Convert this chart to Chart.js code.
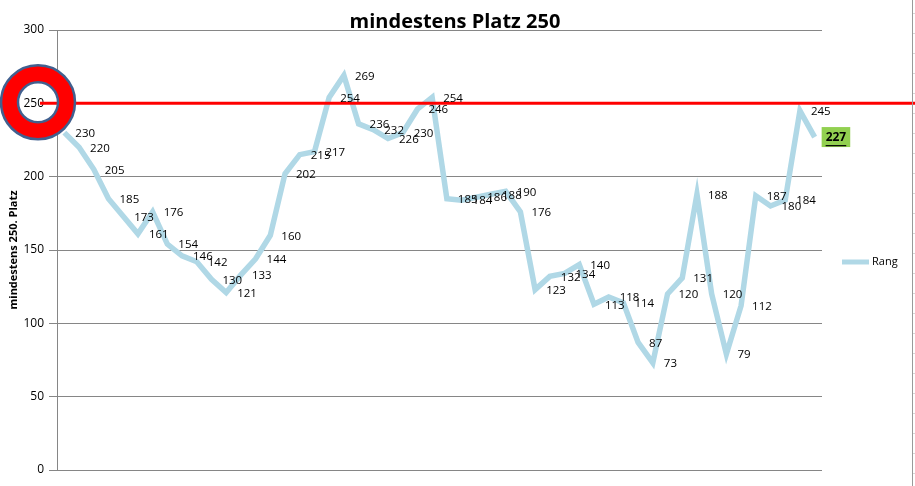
<!DOCTYPE html>
<html>
<head>
<meta charset="utf-8">
<script src="https://cdn.jsdelivr.net/npm/chart.js@4"></script>
<style>
  html, body { margin: 0; padding: 0; background: #fff; }
  #wrap { width: 915px; height: 486px; }
</style>
</head>
<body>
<div id="wrap"><canvas id="rangChart" width="915" height="486"></canvas></div>
<script>
// Rang pro Woche, von links nach rechts
const rang = [230, 220, 205, 185, 173, 161, 176, 154, 146, 142, 130, 121, 133, 144, 160, 202, 215, 217, 254, 269,
              236, 232, 226, 230, 246, 254, 185, 184, 186, 188, 190, 176, 123, 132, 134, 140, 113, 118, 114, 87,
              73, 120, 131, 188, 120, 79, 112, 187, 180, 184, 245, 227];
const categories = rang.map((_, i) => String(i + 1));
const yTicks = [0, 50, 100, 150, 200, 250, 300];
const ziel = 250;

const FONT = "'Open Sans', sans-serif";

const overlay = {
  id: 'overlay',
  afterDatasetsDraw(chart) {
    const ctx = chart.ctx;
    const y = chart.scales.y;
    const meta = chart.getDatasetMeta(0);
    ctx.save();

    // rote Linie bei Platz 250
    const yz = y.getPixelForValue(ziel);
    ctx.strokeStyle = '#ff0000';
    ctx.lineWidth = 3;
    ctx.beginPath();
    ctx.moveTo(40, yz);
    ctx.lineTo(915, yz);
    ctx.stroke();

    // Ring um 250
    const cx = 38, cy = yz - 1;
    ctx.beginPath();
    ctx.arc(cx, cy, 37, 0, Math.PI * 2);
    ctx.arc(cx, cy, 20, 0, Math.PI * 2, true);
    ctx.fillStyle = '#ff0000';
    ctx.fill('evenodd');
    ctx.strokeStyle = '#41608f';
    ctx.lineWidth = 2.5;
    ctx.beginPath();
    ctx.arc(cx, cy, 37, 0, Math.PI * 2);
    ctx.stroke();
    ctx.beginPath();
    ctx.arc(cx, cy, 20, 0, Math.PI * 2);
    ctx.stroke();

    // Werte rechts neben den Punkten
    ctx.textBaseline = 'middle';
    ctx.textAlign = 'left';
    meta.data.forEach((pt, i) => {
      const txt = String(rang[i]);
      if (i === rang.length - 1) {
        ctx.font = 'bold 12px ' + FONT;
        const w = ctx.measureText(txt).width;
        ctx.fillStyle = '#92d050';
        ctx.fillRect(pt.x + 7, pt.y - 10, w + 8, 20);
        ctx.fillStyle = '#000';
        ctx.fillText(txt, pt.x + 11, pt.y + 1);
        ctx.fillRect(pt.x + 11, pt.y + 8, w, 1.2);
      } else {
        ctx.font = '11.5px ' + FONT;
        ctx.fillStyle = '#000';
        ctx.fillText(txt, pt.x + 11, pt.y + 1);
      }
    });

    // Legende
    ctx.strokeStyle = '#b0d8e6';
    ctx.lineWidth = 5;
    ctx.beginPath();
    ctx.moveTo(842, 262);
    ctx.lineTo(869, 262);
    ctx.stroke();
    ctx.fillStyle = '#000';
    ctx.font = '11px ' + FONT;
    ctx.fillText('Rang', 872, 262);

    // Titel
    ctx.font = 'bold 20px ' + FONT;
    ctx.textAlign = 'center';
    ctx.textBaseline = 'alphabetic';
    ctx.fillText('mindestens Platz 250', 455, 28);

    // Tabellenrand rechts
    ctx.strokeStyle = '#9a9a9a';
    ctx.lineWidth = 1;
    ctx.beginPath();
    ctx.moveTo(912.5, 0);
    ctx.lineTo(912.5, 486);
    ctx.stroke();
    ctx.strokeStyle = '#d8d8d8';
    for (let t = 13; t < 486; t += 20) {
      ctx.beginPath();
      ctx.moveTo(913, t + 0.5);
      ctx.lineTo(915, t + 0.5);
      ctx.stroke();
    }
    ctx.restore();
  }
};

new Chart(document.getElementById('rangChart'), {
  type: 'line',
  data: {
    labels: categories,
    datasets: [{
      label: 'Rang',
      data: rang,
      borderColor: '#b0d8e6',
      borderWidth: 5.5,
      pointRadius: 0,
      tension: 0,
      fill: false
    }]
  },
  options: {
    responsive: false,
    animation: false,
    layout: { padding: { left: 0, right: 93, top: 30, bottom: 16 } },
    plugins: {
      legend: { display: false },
      title: { display: false },
      tooltip: { enabled: false }
    },
    scales: {
      x: {
        display: false,
        offset: true
      },
      y: {
        min: 0,
        max: 300,
        afterFit(scale) { scale.width = 57; },
        afterBuildTicks(scale) { scale.ticks = yTicks.map(v => ({ value: v })); },
        border: { color: '#868686', width: 1 },
        grid: { color: '#868686', tickLength: 8, drawOnChartArea: true },
        ticks: {
          color: '#000',
          padding: 5,
          font: { family: FONT, size: 12 }
        },
        title: {
          display: true,
          text: 'mindestens 250. Platz',
          color: '#000',
          padding: { top: 7, bottom: 0 },
          font: { family: FONT, size: 11, weight: 'bold' }
        }
      }
    }
  },
  plugins: [overlay]
});
</script>
</body>
</html>
